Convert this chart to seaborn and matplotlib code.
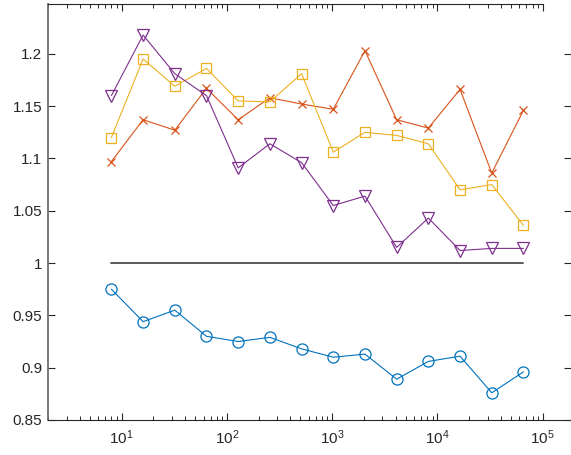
import numpy as np
import matplotlib
matplotlib.use("Agg")
import matplotlib.pyplot as plt
import matplotlib.ticker as mticker
import seaborn as sns

# Problem sizes (powers of two)
sizes = [8, 16, 32, 64, 128, 256, 512, 1024, 2048, 4096, 8192, 16384, 32768, 65536]

ratio_circle = [0.975, 0.944, 0.955, 0.930, 0.925, 0.929, 0.918, 0.910, 0.913,
                0.889, 0.906, 0.911, 0.876, 0.896]
ratio_cross = [1.097, 1.137, 1.127, 1.167, 1.137, 1.158, 1.152, 1.147, 1.203,
               1.137, 1.129, 1.166, 1.086, 1.146]
ratio_square = [1.120, 1.195, 1.169, 1.186, 1.155, 1.154, 1.181, 1.106, 1.125,
                1.122, 1.114, 1.070, 1.075, 1.036]
ratio_tri = [1.160, 1.218, 1.181, 1.160, 1.091, 1.114, 1.096, 1.055, 1.064,
             1.015, 1.043, 1.012, 1.014, 1.014]
baseline = [1.0] * len(sizes)

y_ticks = [0.85, 0.9, 0.95, 1.0, 1.05, 1.1, 1.15, 1.2]

sns.set_theme(style="white")
plt.rcParams["font.family"] = ["Liberation Sans", "DejaVu Sans"]

fig = plt.figure(figsize=(5.71, 4.55), dpi=100)
ax = fig.add_axes([48 / 571, 35 / 455, 1 - 48 / 571, 416 / 455])

common = dict(ax=ax, linewidth=0.8, markerfacecolor="none", errorbar=None,
              sort=False, legend=False)

sns.lineplot(x=sizes, y=baseline, ax=ax, color="#5a5a5a", linewidth=1.4,
             errorbar=None, legend=False)
sns.lineplot(x=sizes, y=ratio_circle, color="#0072BD", marker="o",
             markersize=8, markeredgewidth=0.9, markeredgecolor="#0072BD", **common)
sns.lineplot(x=sizes, y=ratio_cross, color="#D95319", marker="x",
             markersize=6, markeredgewidth=0.9, markeredgecolor="#D95319", **common)
sns.lineplot(x=sizes, y=ratio_square, color="#EDB120", marker="s",
             markersize=6.5, markeredgewidth=0.9, markeredgecolor="#EDB120", **common)
sns.lineplot(x=sizes, y=ratio_tri, color="#7E2F8E", marker="v",
             markersize=8.5, markeredgewidth=0.9, markeredgecolor="#7E2F8E", **common)

ax.set_xscale("log")
ax.set_xlim(2, 10 ** 5.268)
ax.set_ylim(0.85, 1.2476)

ax.xaxis.set_major_locator(mticker.LogLocator(base=10, numticks=10))
ax.xaxis.set_minor_locator(mticker.LogLocator(base=10, subs=np.arange(2, 10), numticks=20))
ax.xaxis.set_major_formatter(mticker.LogFormatterMathtext())
ax.xaxis.set_minor_formatter(mticker.NullFormatter())
ax.set_yticks(y_ticks)
ax.yaxis.set_major_formatter(mticker.FuncFormatter(lambda v, p: f"{v:g}"))

ax.tick_params(axis="both", which="major", direction="in", length=5, width=0.8,
               color="#262626", labelsize=11, labelcolor="#262626",
               top=True, right=True, bottom=True, left=True)
ax.tick_params(axis="x", which="minor", direction="in", length=3, width=0.7,
               color="#262626", top=True, bottom=True)
ax.tick_params(axis="x", which="major", pad=6)
ax.tick_params(axis="y", which="major", pad=4)

for side in ["left", "bottom", "top"]:
    ax.spines[side].set_visible(True)
    ax.spines[side].set_color("#262626")
    ax.spines[side].set_linewidth(0.8)
ax.spines["left"].set_color("#6e6e6e")
ax.spines["left"].set_linewidth(1.3)
ax.spines["right"].set_visible(False)
ax.spines["top"].set_bounds(2, 1e5)

ax.set_xlabel("")
ax.set_ylabel("")
ax.grid(False)

fig.savefig("out.png", dpi=100, facecolor="white")
